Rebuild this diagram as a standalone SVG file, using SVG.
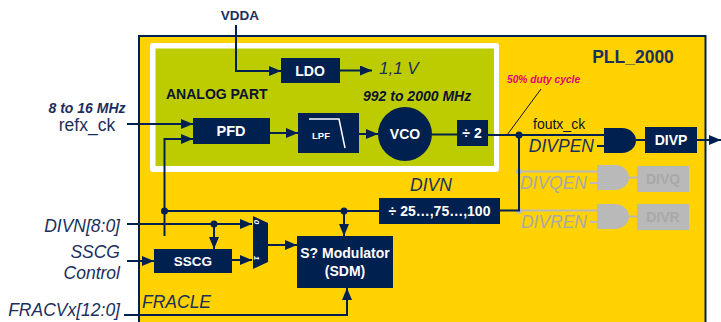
<svg xmlns="http://www.w3.org/2000/svg" width="721" height="322" viewBox="0 0 721 322">
<style>
text{font-family:"Liberation Sans",Arial,sans-serif}
.n{fill:#002050}
.w{fill:#fff;font-weight:bold;text-anchor:middle}
.l{fill:none;stroke:#002050;stroke-width:2}
.g{fill:none;stroke:#b9b9b9;stroke-width:2}
.i{fill:#1b2f5e;font-style:italic;font-size:17.5px}
.e{text-anchor:end}
.gf{fill:#b9b9b9}
.gt{fill:#a8a8a8;font-weight:bold;text-anchor:middle;font-size:14px}
.gi{fill:#a9a9a9;font-style:italic;font-size:17.5px;text-anchor:end}
</style>
<defs>
<marker id="a" markerUnits="userSpaceOnUse" markerWidth="13" markerHeight="10" refX="12" refY="5" orient="auto"><path d="M0 0L12 5L0 10Z" fill="#002050"/></marker>
</defs>
<g id="pll"><rect x="139" y="36" width="566.500" height="300" fill="#ffd200" stroke="#002050" stroke-width="2"/>
<text x="633" y="63" font-size="17.500" font-weight="bold" fill="#1b2f5e" text-anchor="middle">PLL_2000</text></g>
<g id="analog"><rect x="150" y="43" width="349" height="129" rx="3" fill="#fff"/><rect x="155.500" y="48.500" width="338.500" height="117.500" fill="#bccc00"/>
<text x="166" y="99" font-size="14" font-weight="bold" fill="#0c1230">ANALOG PART</text>
<text x="363" y="101" font-size="14" font-weight="bold" font-style="italic" fill="#0c1230">992 to 2000 MHz</text>
<text x="379" y="74" font-size="17" font-style="italic" fill="#1b2f5e">1,1 V</text></g>
<g id="connectors">
<path class="g" d="M519 171.500H597M519 210.500H597M628 177.500H637M628 216.500H637M590 183H597M590 222H597"/>
<circle class="gf" cx="519" cy="171.500" r="3"/><circle class="gf" cx="519" cy="211" r="3"/>
<path class="l" d="M236 25V71H281" marker-end="url(#a)"/>
<path class="l" d="M340 70.500H372" marker-end="url(#a)"/>
<path class="l" d="M127 124H193" marker-end="url(#a)"/>
<path class="l" d="M270 133H298" marker-end="url(#a)"/>
<path class="l" d="M359 134H378" marker-end="url(#a)"/>
<path class="l" d="M432 134.500H457M488 135H604"/>
<path class="l" d="M164.500 236V139H193" marker-end="url(#a)"/>
<path class="l" d="M164.500 211H379M500 210.500H519V135"/>
<path class="l" d="M127 224H252" marker-end="url(#a)"/>
<path class="l" d="M214 224V249" marker-end="url(#a)"/>
<path class="l" d="M344 211V236" marker-end="url(#a)"/>
<path class="l" d="M127 261H154" marker-end="url(#a)"/>
<path class="l" d="M232 260H252" marker-end="url(#a)"/>
<path class="l" d="M268 245H297" marker-end="url(#a)"/>
<path class="l" d="M124 315H347V288" marker-end="url(#a)"/>
<path class="l" d="M697 140H721" marker-end="url(#a)"/>
<path class="l" d="M636 140H645M597 146H604"/>
<path d="M507 135L541 89" stroke="#0c1230" fill="none"/>
<circle class="n" cx="519" cy="135" r="3.500"/><circle class="n" cx="164.500" cy="211" r="3.500"/><circle class="n" cx="214" cy="224" r="3.500"/><circle class="n" cx="344" cy="211" r="3.500"/>
</g>
<g id="vdda"><text x="240" y="20" font-size="13.500" font-weight="bold" fill="#1b2f5e" text-anchor="middle">VDDA</text></g>
<g id="ldo"><rect class="n" x="281" y="58" width="59" height="25"/><text class="w" x="310" y="76" font-size="14">LDO</text></g>
<g id="pfd"><rect class="n" x="193" y="118" width="77" height="26"/><text class="w" x="231" y="136" font-size="14.500">PFD</text></g>
<g id="lpf"><rect class="n" x="298" y="113" width="61" height="40"/><text class="w" x="321" y="139" font-size="9.500">LPF</text><path d="M309 119H339L345 148" fill="none" stroke="#fff" stroke-width="1.500"/></g>
<g id="vco"><circle class="n" cx="405" cy="134" r="27"/><text class="w" x="405" y="139" font-size="14">VCO</text></g>
<g id="div2"><rect class="n" x="457" y="120" width="31" height="26"/><text class="w" x="472" y="138" font-size="14">÷ 2</text></g>
<g id="divn"><rect class="n" x="379" y="198" width="121" height="26"/><text class="w" x="439.500" y="216" font-size="14">÷ 25…,75…,100</text>
<text class="i" x="431" y="191" text-anchor="middle">DIVN</text></g>
<g id="sscg"><rect class="n" x="154" y="249" width="78" height="24"/><text class="w" x="193" y="266" font-size="13.500">SSCG</text></g>
<g id="mux"><path class="n" d="M253 216L268 223V262L253 269Z"/>
<text class="w" transform="translate(254,222) rotate(90)" font-size="8" font-style="italic" font-weight="normal" text-anchor="start">0</text>
<text class="w" transform="translate(254,258) rotate(90)" font-size="8" font-style="italic" font-weight="normal" text-anchor="start">1</text></g>
<g id="sdm"><rect class="n" x="297" y="236" width="96" height="52"/><text class="w" x="345" y="258" font-size="14">S? Modulator</text><text class="w" x="345" y="276" font-size="14">(SDM)</text></g>
<g id="gatep"><path class="n" d="M604 128H622A14 12.500 0 0 1 622 153H604Z"/><text class="i" x="594" y="152" text-anchor="end">DIVPEN</text>
<text x="533" y="129" font-size="14" fill="#0c1230">foutx_ck</text></g>
<g id="divp"><rect class="n" x="645" y="127" width="52" height="26"/><text class="w" x="671" y="145" font-size="14">DIVP</text></g>
<g id="gateq"><path class="gf" d="M597 165H615A14 12.500 0 0 1 615 190H597Z"/><text class="gi" x="587" y="189">DIVQEN</text></g>
<g id="divq"><rect class="gf" x="637" y="166" width="52" height="26"/><text class="gt" x="663" y="183.500">DIVQ</text></g>
<g id="gater"><path class="gf" d="M597 204H615A14 12.500 0 0 1 615 229H597Z"/><text class="gi" x="587" y="228">DIVREN</text></g>
<g id="divr"><rect class="gf" x="637" y="204" width="52" height="26"/><text class="gt" x="663" y="221.500">DIVR</text></g>
<g id="labels">
<text x="87" y="113" font-size="14" font-weight="bold" font-style="italic" fill="#1b2f5e" text-anchor="middle">8 to 16 MHz</text>
<text x="87" y="131" font-size="17.500" fill="#1b2f5e" text-anchor="middle">refx_ck</text>
<text class="i e" x="120" y="232">DIVN[8:0]</text>
<text class="i e" x="120" y="258">SSCG</text>
<text class="i e" x="120" y="279">Control</text>
<text class="i e" x="120" y="316">FRACVx[12:0]</text>
<text class="i" x="142" y="308">FRACLE</text>
<text x="507" y="83" font-size="10.200" font-weight="bold" font-style="italic" fill="#e6007e">50% duty cycle</text>
</g>
</svg>
